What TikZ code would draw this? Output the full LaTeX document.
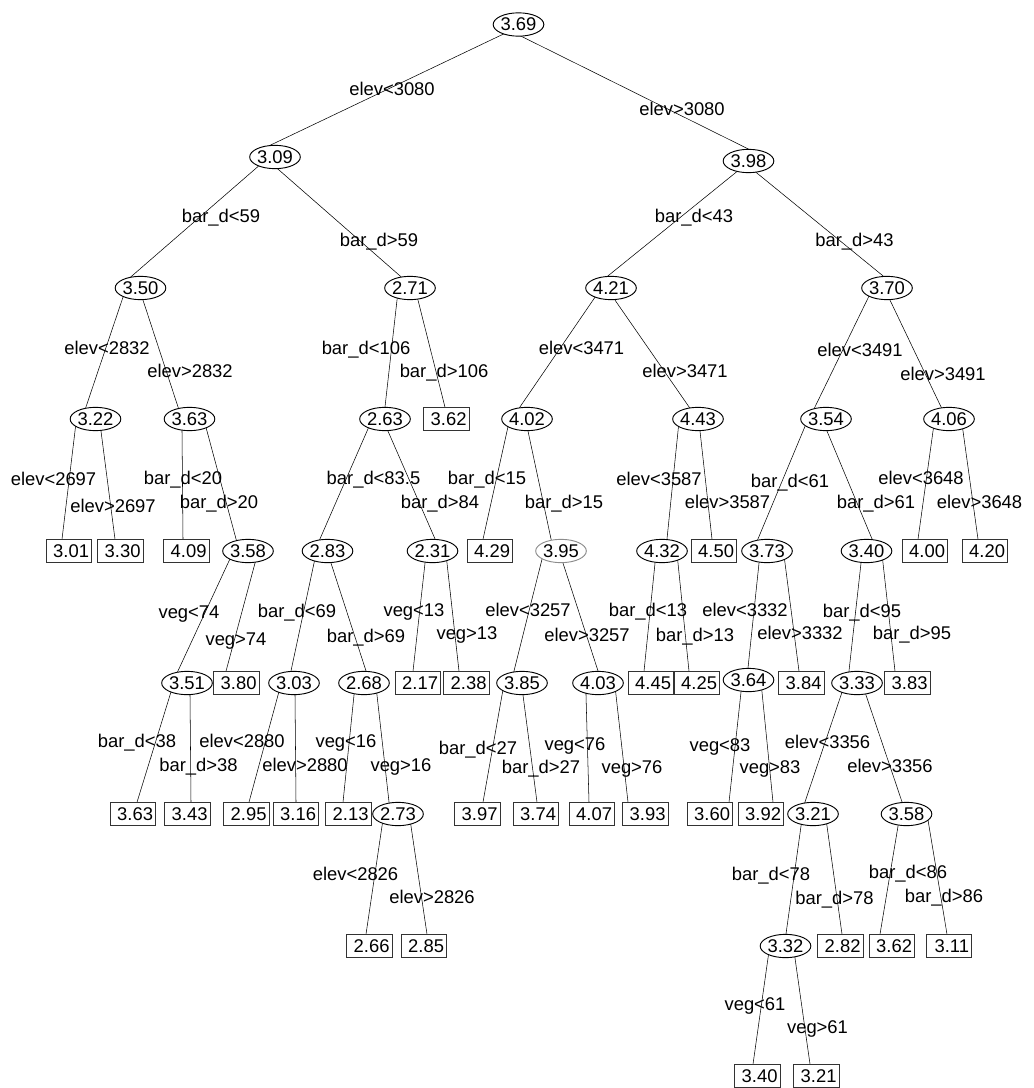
\documentclass[tikz,border=0pt]{standalone}
\usepackage{fontspec}
\setmainfont{Liberation Sans}
\usetikzlibrary{calc,shapes.geometric,backgrounds}

\begin{document}
\begin{tikzpicture}[x=0.75pt,y=-0.75pt,line width=0.7pt,
  font=\fontsize{13.8}{16}\selectfont,
  every node/.style={text height=9.75pt,text depth=0pt,inner sep=0pt},
  split/.style={ellipse,draw,fill=white,minimum width=37pt,minimum height=17.5pt},
  leaf/.style={rectangle,draw=black!80,fill=white,minimum width=34pt,minimum height=17pt,text width=30pt,align=right},
  cond/.style={}]
  \useasboundingbox (0,0) rectangle (1034,1088);
  % split nodes
  \foreach \n/\px/\py/\val in {n369/518.5/24.5/3.69, n309/275/157/3.09, n398/748.5/161/3.98,
      n350/140.5/288/3.50, n271/410/288/2.71, n421/611/288/4.21, n370/887/288/3.70,
      n322/95.5/419/3.22, n363/189.5/419/3.63, n263/385/419/2.63, n402/527/419/4.02,
      n443/698/419/4.43, n354/826/419/3.54, n406/949/419/4.06,
      n358a/248/551/3.58, n283/327.5/551/2.83, n231/432.5/551/2.31, n432/662/551/4.32,
      n373/767/551/3.73, n340/866.5/551/3.40,
      n351/187/683/3.51, n303/294/683/3.03, n268/364/683/2.68, n385/522/683/3.85,
      n403/598/683/4.03, n364/748.5/680/3.64, n333/857/683/3.33,
      n273/398/814/2.73, n321a/813/814/3.21, n358b/906.5/814/3.58, n332/785.5/946/3.32}
    \node[split] (\n) at (\px,\py) {\val};
  \node[split,draw=black!45] (n395) at (561,551) {3.95};
  % leaves
  \foreach \n/\px/\py/\val in {l301/69/551/3.01, l330/120.5/551/3.30, l409/186.5/551/4.09,
      l362a/446.5/419/3.62, l429/490/551/4.29, l450/714/551/4.50, l400/925/551/4.00,
      l420/985/551/4.20, l380/236.5/683/3.80, l217/418/683/2.17, l238/466.5/683/2.38,
      l445/651/683/4.45, l425/697/683/4.25, l384/801.5/683/3.84, l383/907.5/683/3.83,
      l363/133/814/3.63, l343/187.5/814/3.43, l295/246.5/814/2.95, l316/296/814/3.16,
      l213/348.5/814/2.13, l397/477.5/814/3.97, l374/536/814/3.74, l407/592/814/4.07,
      l393/645.5/814/3.93, l360/710/814/3.60, l392/761/814/3.92,
      l266/369.5/946/2.66, l285/424/946/2.85, l282/840.5/946/2.82, l362b/892/946/3.62,
      l311/949/946/3.11, l340/757.5/1076/3.40, l321/816.5/1076/3.21}
    \node[leaf] (\n) at (\px,\py) {\val};
  % branches
  \begin{pgfonlayer}{background}
    \foreach \pa/\pdx/\ch/\cdx in {n369/-20.5/n309/-4, n369/3.5/n398/-0.5,
        n309/-20/n350/-8.5, n309/3/n271/-10, n398/-13.5/n421/-3, n398/8.5/n370/-4,
        n350/-18.5/n322/-9.5, n350/2.5/n363/-11.5, n271/-13/n263/0, n271/8/l362a/-1.5,
        n421/-18/n402/-7, n421/4/n443/-9, n370/-20/n354/-11, n370/3/n406/-8,
        n322/-20.5/l301/-7, n322/5.5/l330/-5.5, n363/-7.5/l409/-3.5, n363/17.5/n358a/-12,
        n263/-18/n283/-7.5, n263/3/n231/2.5, n402/-20/l429/-7, n402/1/n395/-10,
        n443/-20/n432/5, n443/2/l450/-2, n354/-23/n373/-9, n354/1/n340/5.5,
        n406/-16/l400/-7, n406/14/l420/-7, n358a/-20/n351/-9, n358a/7/l380/-10.5,
        n283/-13.5/n303/-3, n283/3.5/n268/2, n231/-7.5/l217/-5, n231/14.5/l238/-7.5,
        n395/-20/n385/-8, n395/2/n403/0, n432/-7/l445/-7, n432/16/l425/-8,
        n373/-8/n364/-0.5, n373/18/l384/-2.5, n340/-5.5/n333/-8, n340/16.5/l383/-12.5,
        n351/-17/l363/4, n351/3/l343/3.5, n303/-16/l295/2.5, n303/1/l316/0,
        n268/-10/l213/-5.5, n268/13/n273/-9, n385/-20/l397/5.5, n385/1/l374/1,
        n403/-12/l407/-3, n403/18/l393/-17.5, n364/-7.5/l360/19, n364/13.5/l392/12,
        n333/-16/n321a/-8, n333/9/n358b/-4.5, n273/-16/l266/-3.5, n273/13/l285/3,
        n321a/-12/n332/0.5, n321a/14/l282/1.5, n358b/-8.5/l362b/-12, n358b/22.5/l311/-2,
        n332/-17.5/l340/-4.5, n332/9.5/l321/-6.5} {
      \coordinate (e1) at ($(\pa.south)+(\pdx,0)$);
      \coordinate (e2) at ($(\ch.north)+(\cdx,0)$);
      \draw ($(e1)!-9pt!(e2)$) -- ($(e2)!-9pt!(e1)$);
    }
  \end{pgfonlayer}
  % split conditions
  \foreach \px/\py/\lbl [count=\i] in {392/89/elev<3080, 682/109/elev>3080,
      221/216/bar\_d<59, 379/240/bar\_d>59, 694/216/bar\_d<43, 854.5/240/bar\_d>43,
      107/348/elev<2832, 190/371/elev>2832, 366/348/bar\_d<106, 444/371/bar\_d>106,
      581.5/348/elev<3471, 685/371/elev>3471, 860/350/elev<3491, 943/374/elev>3491,
      53.5/479/elev<2697, 113/506/elev>2697, 183/478/bar\_d<20, 219/502/bar\_d>20,
      373.5/478/bar\_d<83.5, 440/502/bar\_d>84, 487/478/bar\_d<15, 564/502/bar\_d>15,
      659/479/elev<3587, 727.5/502/elev>3587, 790/481/bar\_d<61, 876/502/bar\_d>61,
      921/478/elev<3648, 979.5/502/elev>3648,
      189/612/veg<74, 236/639/veg>74, 297/611/bar\_d<69, 366/636/bar\_d>69,
      414/610/veg<13, 467/633/veg>13, 528/610/elev<3257, 587/635/elev>3257,
      648/610/bar\_d<13, 695/635/bar\_d>13, 745/610/elev<3332, 800/633/elev>3332,
      862/611/bar\_d<95, 912/633/bar\_d>95,
      137/741/bar\_d<38, 198.5/765/bar\_d>38, 242/741/elev<2880, 305/765/elev>2880,
      346/741/veg<16, 401/765/veg>16, 478/748/bar\_d<27, 541/767/bar\_d>27,
      575/744/veg<76, 632/767/veg>76, 720/745/veg<83, 770/767/veg>83,
      827.5/742/elev<3356, 890/766/elev>3356,
      355.5/874/elev<2826, 432/897/elev>2826, 771/874/bar\_d<78, 834.5/898/bar\_d>78,
      908/872/bar\_d<86, 944/896/bar\_d>86, 755/1004/veg<61, 817.5/1027/veg>61}
    \node[cond] (c\i) at (\px,\py) {\lbl};
\end{tikzpicture}
\end{document}
